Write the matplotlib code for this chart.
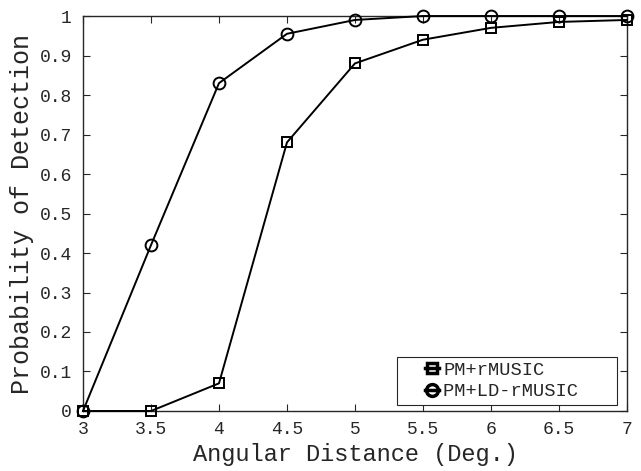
import matplotlib.pyplot as plt

# Datos
dist = [3, 3.5, 4, 4.5, 5, 5.5, 6, 6.5, 7]
pm_rmusic = [0, 0, 0.07, 0.68, 0.88, 0.94, 0.97, 0.985, 0.99]
pm_ld_rmusic = [0, 0.42, 0.83, 0.955, 0.99, 1.0, 1.0, 1.0, 1.0]
xtick_labels = ['3', '3.5', '4', '4.5', '5', '5.5', '6', '6.5', '7']
ytick_labels = ['0', '0.1', '0.2', '0.3', '0.4', '0.5', '0.6', '0.7', '0.8', '0.9', '1']

plt.rcParams['font.family'] = ['Liberation Mono', 'DejaVu Sans Mono']
gris = '#262626'

fig = plt.figure(figsize=(6.41, 4.71), dpi=100)
ax = fig.add_axes([0.1295, 0.1274, 0.8485, 0.8386])

ax.plot(dist, pm_rmusic, '-s', color='k', mfc='none', ms=6.5, mew=1.4, lw=1.4,
        clip_on=False, zorder=3, label='PM+rMUSIC')
ax.plot(dist, pm_ld_rmusic, '-o', color='k', mfc='none', ms=8.5, mew=1.4, lw=1.4,
        clip_on=False, zorder=3, label='PM+LD-rMUSIC   ')

ax.set_xlim(3, 7)
ax.set_ylim(0, 1)
ax.set_xticks(dist)
ax.set_xticklabels(xtick_labels)
ax.set_yticks([i / 10 for i in range(11)])
ax.set_yticklabels(ytick_labels)
ax.tick_params(direction='in', top=True, right=True, labelsize=13, length=5,
               colors=gris, width=0.8)
ax.tick_params(axis='x', pad=7)
ax.tick_params(axis='y', pad=8)
for s in ax.spines.values():
    s.set_color(gris)
    s.set_linewidth(1.0)

ax.set_xlabel('Angular Distance (Deg.)', fontsize=17, color=gris, labelpad=4)
ax.set_ylabel('Probability of Detection', fontsize=18, color=gris, labelpad=4)

# Leyenda estilo MATLAB: marcador corto con espacio a la izquierda
leg = ax.legend(loc='lower right', fontsize=13.5, handlelength=2.0, handletextpad=0.25,
                fancybox=False, framealpha=1, borderpad=0.25, labelspacing=0.25,
                borderaxespad=0.0, bbox_to_anchor=(0.9816, 0.015))
leg.get_frame().set_edgecolor(gris)
leg.get_frame().set_linewidth(0.8)
for h in leg.legend_handles:
    fin = h.get_xdata()[-1]
    h.set_xdata([fin - 10, fin - 5, fin])
    h.set_linewidth(2.5)
    h.set_markeredgewidth(2.5)
for t in leg.get_texts():
    t.set_color(gris)

fig.savefig('out.png', dpi=100)
